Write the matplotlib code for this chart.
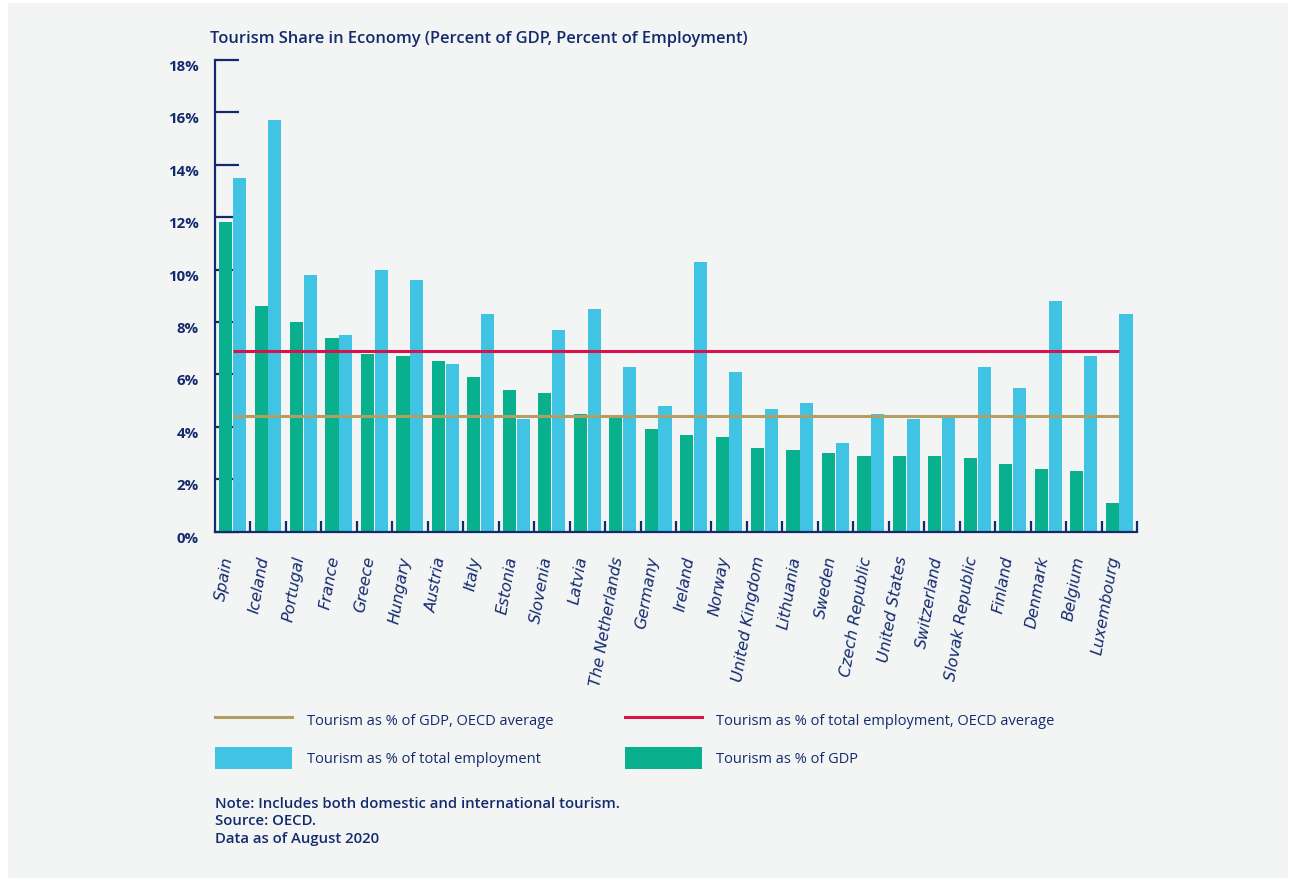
import matplotlib
matplotlib.use("Agg")
import matplotlib.pyplot as plt
import numpy as np
from matplotlib.patches import Rectangle, Patch
from matplotlib.lines import Line2D

# Tourism share in economy, OECD countries (percent)
countries = ["Spain", "Iceland", "Portugal", "France", "Greece", "Hungary",
             "Austria", "Italy", "Estonia", "Slovenia", "Latvia",
             "The Netherlands", "Germany", "Ireland", "Norway",
             "United Kingdom", "Lithuania", "Sweden", "Czech Republic",
             "United States", "Switzerland", "Slovak Republic", "Finland",
             "Denmark", "Belgium", "Luxembourg"]
gdp_share = [11.8, 8.6, 8.0, 7.4, 6.8, 6.7, 6.5, 5.9, 5.4, 5.3, 4.5, 4.4,
             3.9, 3.7, 3.6, 3.2, 3.1, 3.0, 2.9, 2.9, 2.9, 2.8, 2.6, 2.4,
             2.3, 1.1]
employment_share = [13.5, 15.7, 9.8, 7.5, 10.0, 9.6, 6.4, 8.3, 4.3, 7.7,
                    8.5, 6.3, 4.8, 10.3, 6.1, 4.7, 4.9, 3.4, 4.5, 4.3, 4.4,
                    6.3, 5.5, 8.8, 6.7, 8.3]
oecd_avg_gdp = 4.4
oecd_avg_employment = 6.9
y_ticks = [0, 2, 4, 6, 8, 10, 12, 14, 16, 18]
y_tick_labels = [f"{v}%" for v in y_ticks]

NAVY = "#142a6e"
GREEN = "#09b08e"
CYAN = "#41c4e4"
RED = "#d6134a"
GOLD = "#b39e63"
PANEL = "#f3f5f4"

FONT = "Open Sans"
LABEL_FONT = "DejaVu Sans"
W, H = 1289, 880
fig = plt.figure(figsize=(W / 100, H / 100), dpi=100)
fig.patch.set_facecolor("white")
fig.add_artist(Rectangle((8 / W, 2 / H), (W - 9) / W, (H - 5) / H,
                         transform=fig.transFigure, facecolor=PANEL,
                         edgecolor="none", zorder=-10))

ax = fig.add_axes([215 / W, 1 - 531.7 / H, (1137 - 215) / W, (531.7 - 60) / H])
ax.set_facecolor("none")

x = np.arange(len(countries))
bw = 0.37
ax.bar(x - 0.2, gdp_share, width=bw, color=GREEN, zorder=2)
ax.bar(x + 0.19, employment_share, width=bw, color=CYAN, zorder=2)
ax.plot([x[0], x[-1]], [oecd_avg_employment] * 2, color=RED, lw=2.2, zorder=3,
        solid_capstyle="butt")
ax.plot([x[0], x[-1]], [oecd_avg_gdp] * 2, color=GOLD, lw=2.2, zorder=3,
        solid_capstyle="butt")

ax.set_xlim(-0.5, len(countries) - 0.5)
ax.set_ylim(0, 18)
ax.set_axisbelow(True)

for side in ("top", "right"):
    ax.spines[side].set_visible(False)
for side in ("left", "bottom"):
    ax.spines[side].set_color(NAVY)
    ax.spines[side].set_linewidth(1.6)
    ax.spines[side].set_zorder(4)

ax.set_yticks(y_ticks)
ax.set_yticklabels(y_tick_labels)
ax.tick_params(axis="y", direction="in", length=17.3, width=1.6, color=NAVY,
               pad=11.5, labelcolor=NAVY, labelsize=10.8)
for lbl in ax.get_yticklabels():
    lbl.set_fontfamily(FONT)
    lbl.set_fontweight("bold")
    lbl.set_verticalalignment("top")

ax.set_xticks(x)
ax.set_xticklabels(countries)
ax.set_xticks(np.arange(len(countries)) + 0.5, minor=True)
ax.tick_params(axis="x", which="major", length=0, pad=18.5, labelcolor=NAVY,
               labelsize=11.4)
ax.tick_params(axis="x", which="minor", direction="in", length=8, width=1.6,
               color=NAVY)
for lbl in ax.get_xticklabels():
    lbl.set_fontfamily(LABEL_FONT)
    lbl.set_fontstyle("oblique")
    lbl.set_rotation(80)
    lbl.set_rotation_mode("anchor")
    lbl.set_horizontalalignment("right")
    lbl.set_verticalalignment("baseline")

fig.text(210 / W, 1 - 43 / H,
         "Tourism Share in Economy (Percent of GDP, Percent of Employment)",
         fontsize=11.9, fontweight="semibold", family=FONT, color=NAVY,
         va="baseline", ha="left")

handles = [
    Line2D([], [], color=GOLD, lw=2.2),
    Patch(facecolor=CYAN, edgecolor="none"),
    Line2D([], [], color=RED, lw=2.2),
    Patch(facecolor=GREEN, edgecolor="none"),
]
labels = [
    "Tourism as % of GDP, OECD average",
    "Tourism as % of total employment",
    "Tourism as % of total employment, OECD average",
    "Tourism as % of GDP",
]
leg = fig.legend(handles, labels, ncol=2, loc="upper left",
                 bbox_to_anchor=(215 / W, 1 - 709 / H),
                 bbox_transform=fig.transFigure, frameon=False,
                 borderpad=0, borderaxespad=0, handlelength=5.28,
                 handleheight=1.95, handletextpad=1.0, labelspacing=1.1,
                 columnspacing=4.9,
                 prop={"family": FONT, "size": 10.5, "weight": "medium"})
for t in leg.get_texts():
    t.set_color(NAVY)

notes = ["Note: Includes both domestic and international tourism.",
         "Source: OECD.",
         "Data as of August 2020"]
for i, line in enumerate(notes):
    fig.text(215 / W, 1 - (808 + 17.4 * i) / H, line, fontsize=10.7,
             fontweight="semibold", family=FONT, color=NAVY, va="baseline")

fig.savefig("out.png", dpi=100, facecolor=fig.get_facecolor())
